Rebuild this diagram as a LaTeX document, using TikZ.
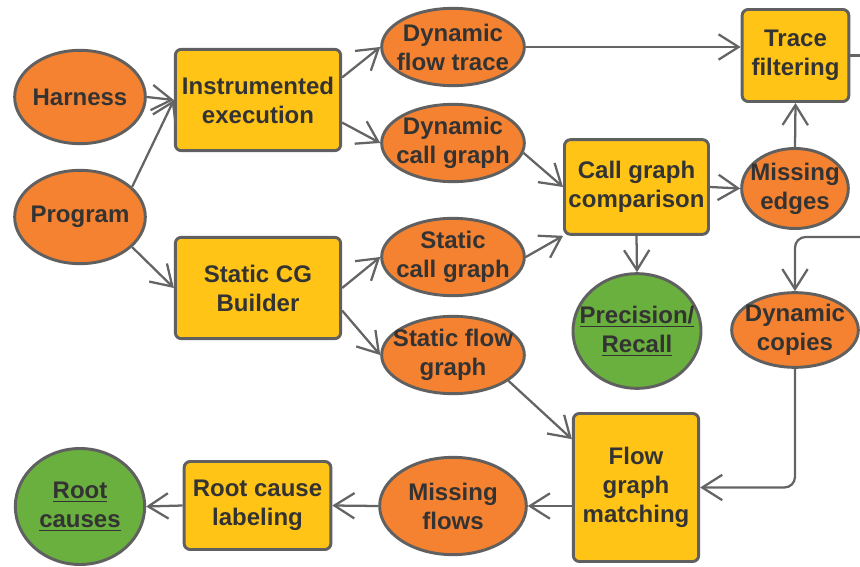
\documentclass[tikz,border=0pt]{standalone}
\usepackage{fontspec}
\setmainfont{Liberation Sans}
\usetikzlibrary{shapes.geometric,arrows.meta}

\definecolor{boxyellow}{RGB}{255,196,22}
\definecolor{ovalorange}{RGB}{245,130,48}
\definecolor{resgreen}{RGB}{106,176,62}
\definecolor{rimgray}{RGB}{96,96,96}
\definecolor{txtgray}{RGB}{51,51,51}
\definecolor{linegray}{RGB}{100,100,100}

\tikzset{
  every node/.style={font=\bfseries\fontsize{18}{21.7}\selectfont, text=txtgray, align=center},
  stepbox/.style={rectangle, rounded corners=4.5pt, fill=boxyellow, draw=rimgray, line width=2.2pt, inner sep=2pt},
  oval/.style={ellipse, fill=ovalorange, draw=rimgray, line width=2.2pt, inner sep=-12pt},
  result/.style={oval, fill=resgreen},
  wire/.style={draw=linegray, line width=1.7pt},
  flow/.style={wire, -{Straight Barb[length=15pt,width=19pt]}}
}

\begin{document}
\begin{tikzpicture}[x=0.75pt,y=0.75pt,yscale=-1,xscale=1]
\useasboundingbox (0,0) rectangle (860,567);
\clip (0,0) rectangle (860,567);

% Text Node
\node[oval, minimum width=98pt, minimum height=70pt] (harness) at (80,97) {Harness};
% Text Node
\node[oval, minimum width=98pt, minimum height=70pt] (program) at (80,217) {Program};
% Text Node
\node[stepbox, minimum width=124pt, minimum height=76pt] (instr) at (258,100) {Instrumented\\execution};
% Text Node
\node[stepbox, minimum width=124pt, minimum height=76pt] (cgbuild) at (258,288) {Static CG\\Builder};
% Text Node
\node[oval, minimum width=107pt, minimum height=58pt] (dyntrace) at (453,47) {Dynamic\\flow trace};
% Text Node
\node[oval, minimum width=107pt, minimum height=58pt] (dyncg) at (453,143) {Dynamic\\call graph};
% Text Node
\node[oval, minimum width=107pt, minimum height=58pt] (statcg) at (453,257) {Static\\call graph};
% Text Node
\node[oval, minimum width=107pt, minimum height=58pt] (statflow) at (453,355) {Static flow\\graph};
% Text Node
\node[stepbox, minimum width=80pt, minimum height=69pt] (tracefilt) at (795.5,55.5) {Trace\\filtering};
% Text Node
\node[stepbox, minimum width=108pt, minimum height=71pt] (cgcomp) at (636.5,187) {Call graph\\comparison};
% Text Node
\node[oval, minimum width=80pt, minimum height=60pt] (missedges) at (795,188.5) {Missing\\edges};
% Text Node
\node[result, minimum width=96pt, minimum height=86pt] (precrec) at (637,331) {\underline{Precision/}\\\underline{Recall}};
% Text Node
\node[oval, minimum width=95pt, minimum height=56pt] (dyncopies) at (795,330) {Dynamic\\copies};
% Text Node
\node[stepbox, minimum width=94pt, minimum height=111pt] (flowmatch) at (636,487.5) {Flow\\graph\\matching};
% Text Node
\node[oval, minimum width=110pt, minimum height=73pt] (missflows) at (453,506) {Missing\\flows};
% Text Node
\node[stepbox, minimum width=110pt, minimum height=66pt] (rootlabel) at (257.5,505.5) {Root cause\\labeling};
% Text Node
\node[result, minimum width=97pt, minimum height=87pt] (rootcauses) at (80,506.5) {\underline{Root}\\\underline{causes}};

% ends cut off by the right border
\coordinate (offright) at (890,237);

%Straight Lines
\draw[flow] (harness.east) -- (instr.west);
\draw[flow] (program.30) -- (instr.west);
\draw[flow] (program.-30) -- (cgbuild.west);
%Straight Lines
\draw[flow] (instr.15) -- (dyntrace.west);
\draw[flow] (instr.-15) -- (dyncg.west);
\draw[flow] (cgbuild.east) -- (statcg.west);
\draw[flow] (cgbuild.-15) -- (statflow.west);
%Straight Lines
\draw[flow] (dyntrace.east) -- (dyntrace.east -| tracefilt.west);
\draw[flow] (dyncg.-8) -- (cgcomp.west);
\draw[flow] (statcg.east) -- (cgcomp.south west);
\draw[flow] (cgcomp.east) -- (missedges.west);
\draw[flow] (cgcomp.south) -- (precrec.north);
\draw[flow] (missedges.north) -- (tracefilt.south);
\draw[wire] (tracefilt.east) -- (tracefilt.east -| offright);
%Straight Lines
\draw[flow, rounded corners=8] (offright) -| (dyncopies.north);
\draw[flow, rounded corners=8] (dyncopies.south) |- (flowmatch.east);
\draw[flow] (statflow.-25) -- (flowmatch.143);
%Straight Lines
\draw[flow] (flowmatch.west |- missflows.east) -- (missflows.east);
\draw[flow] (missflows.west) -- (rootlabel.east);
\draw[flow] (rootlabel.west) -- (rootcauses.east);

\end{tikzpicture}
\end{document}
